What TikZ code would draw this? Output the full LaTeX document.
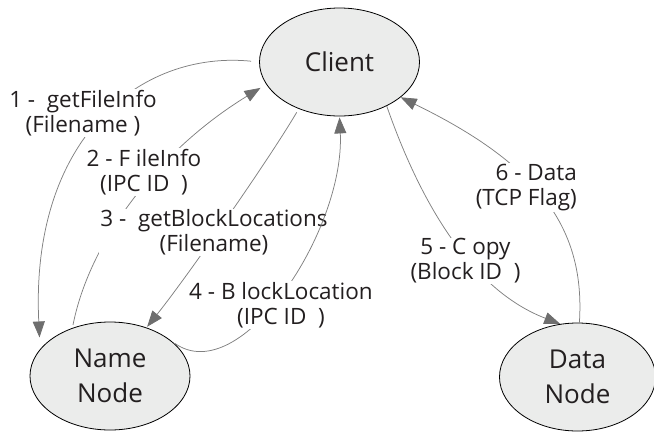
\documentclass[tikz,border=0pt]{standalone}
\usepackage{fontspec}
\setmainfont{Open Sans}
\usetikzlibrary{arrows.meta,shapes.geometric}
\definecolor{nodefill}{HTML}{EBECEB}
\definecolor{wire}{HTML}{808080}
\definecolor{tipfill}{HTML}{6E6E6E}
\definecolor{ink}{HTML}{231F20}
\begin{document}
\begin{tikzpicture}[x=1pt,y=-1pt,
  entity/.style={ellipse, draw=black, line width=0.8pt, fill=nodefill,
    minimum width=160pt, minimum height=108pt, inner sep=0pt, align=center,
    font=\fontsize{26}{35}\selectfont, text=ink},
  msg/.style={fill=white, inner sep=1pt, align=center,
    font=\fontsize{22.5}{25}\selectfont, text=ink},
  flow/.style={draw=wire, line width=0.75pt,
    -{Triangle[length=16pt,width=12pt,color=tipfill]}}
]
\useasboundingbox (0,0) rectangle (654,432);

% the three hosts
\node[entity] (client) at (339.5,62) {Client};
\node[entity] (namenode) at (110,376) {Name\\Node};
\node[entity, minimum width=156pt] (datanode) at (577.5,377) {Data\\Node};

% 1: client asks the name node for file info
\draw[flow, shorten <=8pt, shorten >=11.7pt]
  (client.180) .. controls +(-119.5,-12) and +(-10,-210) .. (namenode.159.4);
\node[msg] (m1) at (83,113) {1 -\ \ getFileInfo\\(Filename\ )};

% 2: name node answers
\draw[flow, shorten <=3pt, shorten >=6.7pt]
  (namenode.128.7) .. controls +(17.5,-88.5) and +(-106.8,65.3) .. (client.197.3);
\node[msg] (m2) at (144,172) {2 - F ileInfo\\(IPC ID\ \ )};

% 3: client asks for block locations
\draw[flow, shorten <=4pt, shorten >=1pt]
  (client.229.9) .. controls +(-30,51) and +(40,-50) .. (namenode.53);
\node[msg] (m3) at (214,232.5) {3 -\ \ getBlockLocations\\(Filename)};

% 4: name node returns the block location
\draw[flow, shorten <=3pt, shorten >=1pt]
  (namenode.29) .. controls +(68.2,48.3) and +(5.5,114) .. (client.270);
\node[msg] (m4) at (281,305) {4 - B lockLocation\\(IPC ID\ \ )};

% 5: client requests a copy from the data node
\draw[flow]
  (client.317.5) .. controls +(33,94.5) and +(-90,-34.4) .. (datanode.108.4);
\node[msg] (m5) at (465.5,261) {5 - C opy\\(Block ID\ \ )};

% 6: data node sends the data back
\draw[flow]
  (datanode.88.4) .. controls +(6,-93) and +(139.7,67.9) .. (client.330);
\node[msg, align=right, anchor=east] (m6) at (578,187.5) {6 - Data\\(TCP Flag)};
\end{tikzpicture}
\end{document}
